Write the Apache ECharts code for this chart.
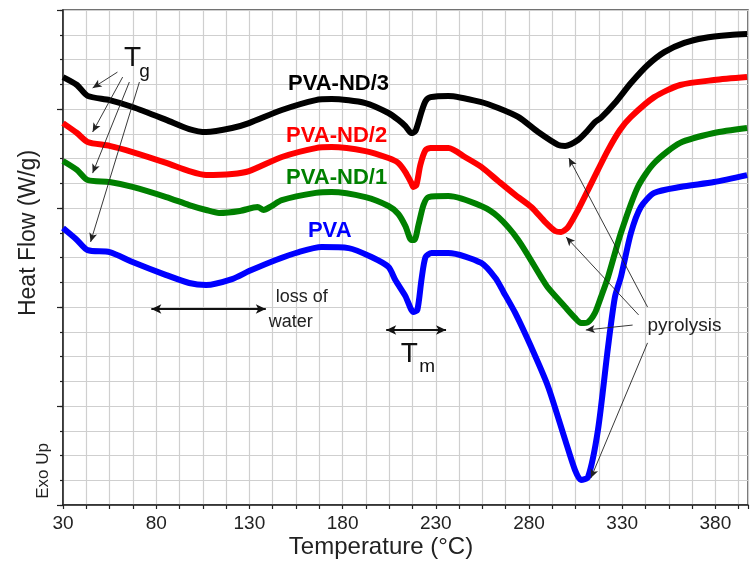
<!DOCTYPE html>
<html><head><meta charset="utf-8">
<script src="https://cdn.jsdelivr.net/npm/echarts@6/dist/echarts.min.js"></script>
<style>html,body{margin:0;padding:0;background:#fff}#c{width:751px;height:563px}</style>
</head><body><div id="c"></div>
<script>
// Temperature (°C) values and heat flow (arbitrary, Exo Up) per curve
const nd3T = [30,37.5,43.2,55.0,67.3,85.4,97.7,106.8,120.7,129.8,147.4,165.6,174.1,192.3,204.6,209.9,213.7,216.9,219.1,222.3,224.5,227.2,236.8,254.4,263.5,274.2,284.9,295.6,299.4,306.3,311.7,315.4,318.6,326.1,334.7,343.7,352.6,363.3,374.0,387.9,397.0];
const nd3Y = [17.29,16.97,16.53,16.36,16.08,15.56,15.19,15.07,15.23,15.43,15.96,16.36,16.40,16.24,15.84,15.56,15.31,15.03,15.11,15.88,16.32,16.48,16.53,16.28,16.04,15.68,15.07,14.55,14.51,14.75,15.15,15.47,15.64,16.24,17.05,17.78,18.30,18.67,18.87,18.99,19.03];

const nd2T = [30,37.5,43.2,55.0,67.3,85.4,97.7,106.8,120.7,129.8,147.4,165.6,174.1,192.3,204.6,209.9,213.7,216.9,218.0,219.6,221.7,224.5,227.2,236.8,245.6,254.4,263.5,272.6,281.2,288.7,294.0,297.2,301.0,306.3,311.7,317.0,322.4,328.8,334.7,347.2,361.1,379.3,397.0];
const nd2Y = [15.43,15.03,14.67,14.51,14.26,13.82,13.49,13.33,13.37,13.49,14.06,14.42,14.46,14.30,14.02,13.82,13.45,13.01,12.85,12.93,13.74,14.34,14.42,14.42,14.06,13.66,13.09,12.53,12.04,11.43,11.07,11.03,11.23,11.92,12.73,13.54,14.34,15.15,15.68,16.48,16.97,17.17,17.29];

const nd1T = [30,37.5,43.2,55.0,67.3,85.4,97.7,106.8,113.7,124.9,134.4,137.6,141.9,147.4,165.6,174.1,192.3,204.6,209.9,213.7,216.9,218.5,220.7,223.4,226.1,236.8,254.4,263.5,274.2,286.5,290.3,299.4,304.7,307.9,311.7,315.4,318.6,322.4,329.3,338.4,347.2,361.1,379.3,397.0];
const nd1Y = [13.90,13.54,13.13,13.05,12.85,12.44,12.12,11.92,11.80,11.88,12.04,11.92,12.08,12.32,12.61,12.65,12.44,12.08,11.76,11.27,10.71,10.71,11.31,12.12,12.44,12.48,12.08,11.64,10.71,9.21,8.77,8.00,7.56,7.35,7.39,7.76,8.40,9.21,10.99,12.85,13.82,14.63,15.03,15.23];

const pvaT = [30,37.5,43.2,55.0,67.3,85.4,97.7,106.8,120.7,129.8,144.2,156.5,168.8,183.2,195.5,204.6,208.3,213.7,218.0,220.1,222.3,224.5,227.7,236.8,254.4,262.0,266.3,272.6,281.2,290.3,299.4,304.7,307.9,311.7,317.0,322.4,326.1,329.3,334.7,340.0,347.2,361.1,379.3,397.0];
const pvaY = [11.19,10.71,10.30,10.22,9.82,9.29,8.97,8.89,9.13,9.45,9.90,10.22,10.42,10.38,10.02,9.62,9.09,8.44,7.80,7.88,9.09,10.02,10.18,10.18,9.78,9.17,8.61,7.76,6.38,4.77,2.63,1.41,1.01,1.13,3.03,6.38,8.40,9.21,10.99,12.04,12.61,12.85,13.05,13.33];

const seriesNames = ['PVA-ND/3','PVA-ND/2','PVA-ND/1','PVA'];
const seriesColors = ['#000000','#ff0000','#008000','#0000ff'];
const xTickLabels = [30,80,130,180,230,280,330,380];

// annotation geometry in data coordinates
const tgArrows = [[[59.2,17.49],[45.9,16.85]],[[62.0,17.29],[45.9,15.07]],[[65.6,17.09],[45.9,13.41]],[[71.0,17.09],[44.8,10.63]]];
const pyroArrows = [[[343.6,8.0],[301.4,14.02]],[[338.8,7.68],[299.9,10.83]],[[335.6,7.27],[310.5,7.07]],[[343.6,6.55],[313.2,1.09]]];
const waterArrow = [[77.4,7.92],[138.8,7.92]];
const tmArrow = [[203.4,7.07],[235.5,7.07]];
const nameLabelPos = [[177.8,17.0],[176.8,14.9],[176.8,13.2],[173.1,11.06]];

const FONT = 'Liberation Sans, Arial, sans-serif';
const chart = echarts.init(document.getElementById('c'));

function zip(a,b){return a.map((v,i)=>[v,b[i]]);}
const curves = [zip(nd3T,nd3Y),zip(nd2T,nd2Y),zip(nd1T,nd1Y),zip(pvaT,pvaY)];

const lineSeries = curves.map((d,i)=>({
  name: seriesNames[i], type:'line', data:d, showSymbol:false, symbol:'none', smooth:0.25,
  lineStyle:{color:seriesColors[i], width:6}, z:3, silent:true
}));

function ml(pairs){
  return pairs.map(p=>[{coord:p[0]},{coord:p[1]}]);
}
const annSeries = {
  type:'line', data:[], silent:true, z:4,
  markLine:{
    silent:true, animation:false, symbol:['none','arrow'], symbolSize:[6,9],
    label:{show:false},
    lineStyle:{color:'#222', width:0.9, type:'solid'},
    data: ml(tgArrows).concat(ml(pyroArrows))
  }
};
const annSeries2 = {
  type:'line', data:[], silent:true, z:4,
  markLine:{
    silent:true, animation:false, symbol:['arrow','arrow'], symbolSize:[7,10],
    label:{show:false},
    lineStyle:{color:'#111', width:1.8, type:'solid'},
    data: ml([waterArrow, tmArrow])
  }
};

chart.setOption({
  animation:false,
  backgroundColor:'#fff',
  grid:{left:63, right:0, top:10, bottom:58, show:true, borderColor:'#444', borderWidth:1.5},
  xAxis:{
    type:'value', min:30, max:397.5, interval:12.5,
    axisLine:{show:true, lineStyle:{color:'#222', width:1.5}},
    axisTick:{show:true, length:4, lineStyle:{color:'#222', width:1.2}},
    splitLine:{show:true, lineStyle:{color:'#cfcfcf', width:1.2}},
    axisLabel:{show:true, margin:9, color:'#222', fontSize:19, fontFamily:FONT,
      formatter:v=> (xTickLabels.indexOf(v)>=0) ? String(v) : ''}
  },
  yAxis:[{
    type:'value', min:0, max:20, interval:1,
    axisLine:{show:true, lineStyle:{color:'#222', width:1.5}},
    axisTick:{show:true, length:3, lineStyle:{color:'#222', width:1.2}},
    splitLine:{show:true, lineStyle:{color:'#cfcfcf', width:1.2}},
    axisLabel:{show:false}
  },{
    type:'value', min:0, max:20, interval:4, position:'left',
    axisLine:{show:false}, axisTick:{show:true, length:6, lineStyle:{color:'#222', width:1.2}},
    splitLine:{show:false}, axisLabel:{show:false}
  }],
  series: lineSeries.concat([annSeries, annSeries2])
});

function px(p){return chart.convertToPixel({gridIndex:0}, p);}
const g = [];
function txt(pos, text, size, color, weight, align){
  const q = px(pos);
  g.push({type:'text', x:q[0], y:q[1], z:10, silent:true,
    style:{text:text, font:(weight||'normal')+' '+size+'px '+FONT, fill:color, textAlign:align||'center', textVerticalAlign:'middle'}});
}
function abs(x,y,text,size,rot){
  g.push({type:'text', x:x, y:y, rotation:rot||0, z:10, silent:true,
    style:{text:text, font:'normal '+size+'px '+FONT, fill:'#222', textAlign:'center', textVerticalAlign:'middle'}});
}
nameLabelPos.forEach((p,i)=>txt(p, seriesNames[i], 22, seriesColors[i], 'bold', 'center'));
txt([67.3,18.06],'T',28,'#111');
txt([73.7,17.49],'g',19,'#111');
txt([215.8,6.10],'T',28,'#111');
txt([225.4,5.58],'m',19,'#111');
txt([144.1,8.40],'loss of',18,'#222','normal','left');
txt([140.4,7.39],'water',18,'#222','normal','left');
txt([343.6,7.23],'pyrolysis',19,'#222','normal','left');
abs(43, 471, 'Exo Up', 17, Math.PI/2);
abs(29, 233, 'Heat Flow (W/g)', 23, Math.PI/2);
abs(381, 547, 'Temperature (°C)', 24, 0);
chart.setOption({graphic:g});
</script></body></html>
